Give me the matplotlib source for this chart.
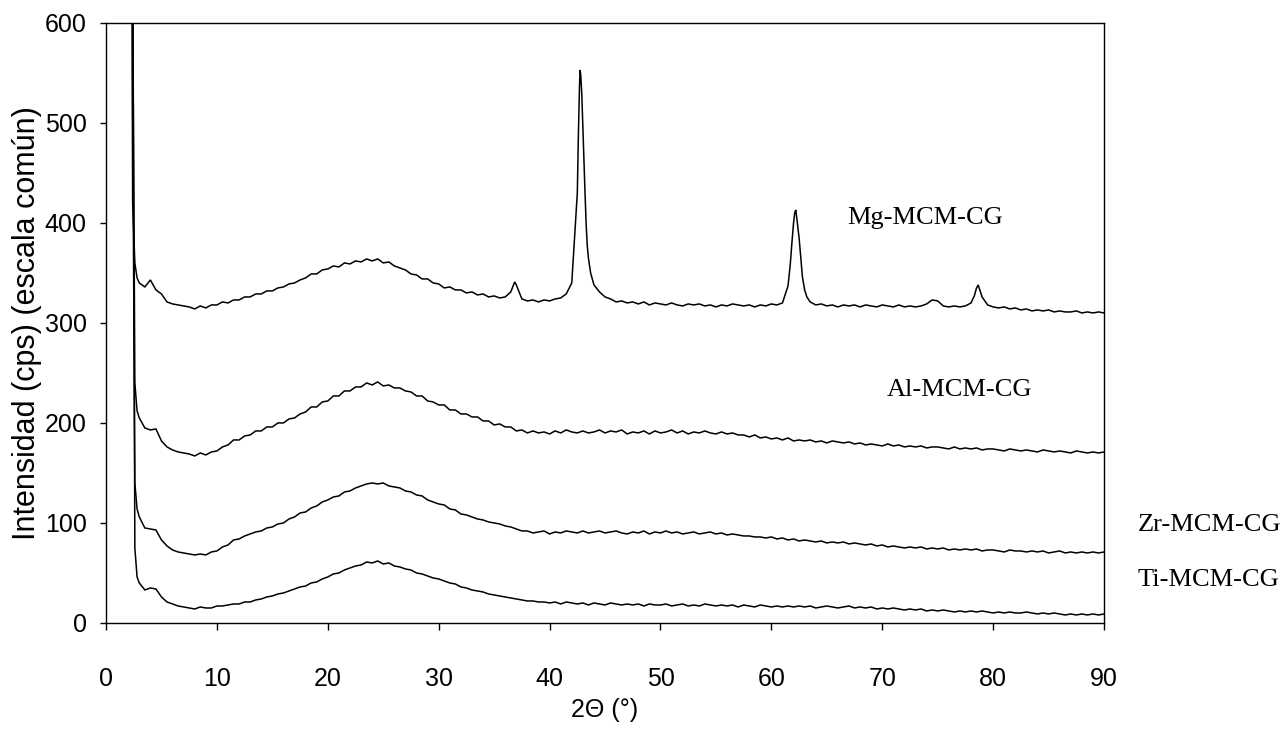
import numpy as np
import matplotlib
matplotlib.use("Agg")
import matplotlib.pyplot as plt

# 2-theta sampling: fine steps across the low-angle spike, then 0.5 deg steps
two_theta_head = [2.0, 2.2, 2.4, 2.6, 2.8]
two_theta_step = 0.5
two_theta_start, two_theta_end = 3.0, 90.0

# Intensities (cps, common scale, stacked as published)
mg_head = [3000, 1200, 420, 360, 345]
mg_body = [
    340, 336, 343, 333, 329, 321, 319, 318, 317, 316,
    314, 317, 315, 318, 318, 321, 320, 323, 323, 326,
    326, 329, 329, 332, 332, 335, 336, 339, 340, 343,
    345, 349, 349, 353, 354, 357, 356, 360, 359, 362,
    361, 364, 362, 364, 360, 361, 357, 355, 353, 349,
    348, 344, 344, 340, 339, 335, 336, 333, 333, 330,
    331, 328, 329, 326, 327, 325, 326, 331, 338, 324,
    322, 323, 321, 323, 322, 324, 325, 329, 340, 430,
    496, 365, 338, 331, 326, 324, 321, 322, 320, 321,
    319, 321, 318, 320, 319, 318, 320, 318, 317, 319,
    318, 319, 317, 318, 316, 318, 317, 319, 318, 317,
    318, 316, 318, 317, 319, 318, 320, 337, 400, 385,
    333, 321, 318, 319, 317, 318, 316, 318, 317, 318,
    316, 318, 317, 316, 318, 317, 316, 318, 316, 317,
    316, 317, 319, 323, 322, 317, 316, 317, 316, 317,
    320, 335, 326, 318, 316, 315, 316, 314, 315, 313,
    314, 312, 313, 312, 313, 311, 312, 311, 311, 312,
    310, 311, 310, 311, 310,
]
# Extra samples across the sharp Mg reflections
mg_peak_x = [36.85, 42.6, 42.7, 42.75, 42.8, 42.9, 43.1, 43.2, 43.3, 43.4, 43.7,
             61.7, 61.85, 62.1, 62.2, 62.3, 62.6, 62.8, 63.2, 78.3, 78.65]
mg_peak_y = [341, 490, 538, 553, 549, 530, 462, 428, 398, 377, 350,
             358, 380, 410, 413, 404, 372, 346, 326, 327, 338]

al_head = [3000, 1600, 650, 240, 212]
al_body = [
    205, 195, 193, 194, 182, 176, 173, 171, 170, 169,
    167, 170, 168, 171, 172, 176, 178, 183, 183, 187,
    188, 192, 192, 196, 196, 200, 200, 204, 205, 209,
    211, 216, 216, 221, 222, 227, 227, 232, 232, 236,
    236, 240, 238, 241, 237, 238, 235, 235, 232, 231,
    227, 227, 222, 221, 218, 218, 213, 213, 209, 209,
    206, 206, 202, 202, 198, 199, 196, 196, 192, 193,
    190, 192, 190, 191, 189, 192, 190, 193, 191, 190,
    192, 190, 191, 193, 190, 192, 191, 193, 189, 191,
    190, 192, 189, 192, 190, 191, 193, 190, 192, 189,
    191, 190, 192, 190, 189, 191, 189, 190, 188, 188,
    186, 188, 185, 186, 184, 185, 183, 185, 182, 183,
    182, 183, 181, 182, 180, 182, 181, 180, 181, 179,
    180, 178, 179, 178, 177, 179, 177, 178, 176, 177,
    176, 177, 175, 176, 176, 175, 174, 176, 174, 175,
    174, 175, 173, 174, 174, 173, 172, 174, 173, 172,
    173, 172, 171, 173, 172, 171, 172, 171, 170, 172,
    171, 170, 171, 170, 171,
]

zr_head = [3000, 1800, 520, 140, 114]
zr_body = [
    106, 95, 94, 93, 83, 77, 73, 71, 70, 69,
    68, 69, 68, 71, 72, 76, 78, 83, 84, 87,
    89, 91, 92, 95, 96, 99, 100, 104, 106, 110,
    111, 115, 117, 121, 123, 126, 127, 131, 132, 135,
    137, 139, 140, 139, 140, 137, 136, 135, 132, 131,
    128, 127, 123, 121, 119, 118, 114, 113, 109, 108,
    106, 104, 103, 101, 100, 99, 97, 96, 94, 92,
    92, 90, 91, 92, 89, 91, 90, 92, 91, 90,
    92, 90, 91, 92, 90, 91, 92, 90, 89, 91,
    90, 92, 89, 91, 90, 92, 90, 91, 89, 90,
    91, 89, 90, 91, 89, 90, 88, 89, 88, 87,
    87, 86, 86, 85, 86, 84, 85, 83, 84, 82,
    83, 82, 81, 82, 80, 81, 80, 81, 79, 80,
    79, 78, 79, 77, 78, 76, 77, 76, 75, 76,
    75, 76, 74, 75, 74, 75, 73, 74, 73, 74,
    73, 74, 72, 73, 73, 72, 71, 73, 72, 72,
    71, 72, 71, 72, 70, 71, 72, 70, 71, 70,
    71, 70, 71, 70, 71,
]

ti_head = [3000, 2000, 700, 75, 46]
ti_body = [
    40, 33, 35, 34, 26, 21, 19, 17, 16, 15,
    14, 16, 15, 15, 17, 17, 18, 19, 19, 21,
    21, 23, 24, 26, 27, 29, 30, 32, 34, 36,
    37, 40, 41, 44, 46, 49, 50, 53, 55, 57,
    58, 61, 60, 62, 59, 60, 57, 56, 54, 53,
    50, 49, 47, 45, 44, 42, 40, 39, 36, 35,
    33, 32, 31, 29, 28, 27, 26, 25, 24, 23,
    22, 22, 21, 21, 20, 21, 19, 21, 20, 19,
    20, 18, 20, 19, 18, 20, 19, 18, 19, 18,
    19, 17, 19, 18, 18, 19, 17, 18, 19, 17,
    18, 17, 19, 18, 17, 18, 17, 18, 16, 18,
    17, 16, 18, 17, 16, 17, 16, 17, 16, 17,
    16, 17, 15, 16, 17, 16, 15, 16, 17, 15,
    16, 15, 16, 14, 15, 14, 15, 14, 13, 14,
    13, 14, 12, 13, 12, 13, 12, 11, 12, 11,
    12, 11, 12, 11, 10, 11, 10, 11, 10, 10,
    11, 10, 9, 10, 9, 10, 9, 8, 9, 8,
    9, 8, 9, 8, 9,
]

sample_labels = ["Mg-MCM-CG", "Al-MCM-CG", "Zr-MCM-CG", "Ti-MCM-CG"]
label_pos = [(73.9, 405, "center"), (77.0, 233, "center"),
             (93.0, 98, "left"), (93.0, 43, "left")]

x_ticks = [0, 10, 20, 30, 40, 50, 60, 70, 80, 90]
y_ticks = [0, 100, 200, 300, 400, 500, 600]

# ---------------------------------------------------------------------------
body_x = np.arange(two_theta_start, two_theta_end + 1e-9, two_theta_step)
grid_x = np.concatenate([two_theta_head, body_x])

mg_x = np.concatenate([grid_x, mg_peak_x])
mg_y = np.concatenate([mg_head, mg_body, mg_peak_y])
order = np.argsort(mg_x, kind="stable")
mg_x, mg_y = mg_x[order], mg_y[order]

series = [
    (mg_x, mg_y),
    (grid_x, np.concatenate([al_head, al_body])),
    (grid_x, np.concatenate([zr_head, zr_body])),
    (grid_x, np.concatenate([ti_head, ti_body])),
]

fig = plt.figure(figsize=(12.82, 7.39), dpi=100)
ax = fig.add_axes([0.0827, 0.157, 0.7785, 0.812])

for xs, ys in series:
    ax.plot(xs, ys, color="black", lw=1.1, solid_joinstyle="miter")

ax.set_xlim(0, 90)
ax.set_ylim(0, 600)
ax.set_xticks(x_ticks)
ax.set_yticks(y_ticks)

sans = "Liberation Sans"
serif = "Liberation Serif"
for lab in ax.get_xticklabels() + ax.get_yticklabels():
    lab.set_fontfamily(sans)
    lab.set_fontsize(18)
ax.tick_params(axis="x", direction="out", length=5, width=1, pad=27)
ax.tick_params(axis="y", direction="out", length=4, width=1, pad=10)

for sp in ax.spines.values():
    sp.set_linewidth(1.0)
    sp.set_color("black")

ax.set_xlabel("2\u0398 (\u00b0)", fontfamily=sans, fontsize=18)
ax.xaxis.set_label_coords(0.5, -0.125)
ax.set_ylabel("Intensidad (cps) (escala común)", fontfamily=sans, fontsize=22)
ax.yaxis.set_label_coords(-0.064, 0.5)

for text, (lx, ly, ha) in zip(sample_labels, label_pos):
    ax.text(lx, ly, text, fontfamily=serif, fontsize=19, ha=ha, va="center",
            clip_on=False)

fig.savefig("out.png", dpi=100)
